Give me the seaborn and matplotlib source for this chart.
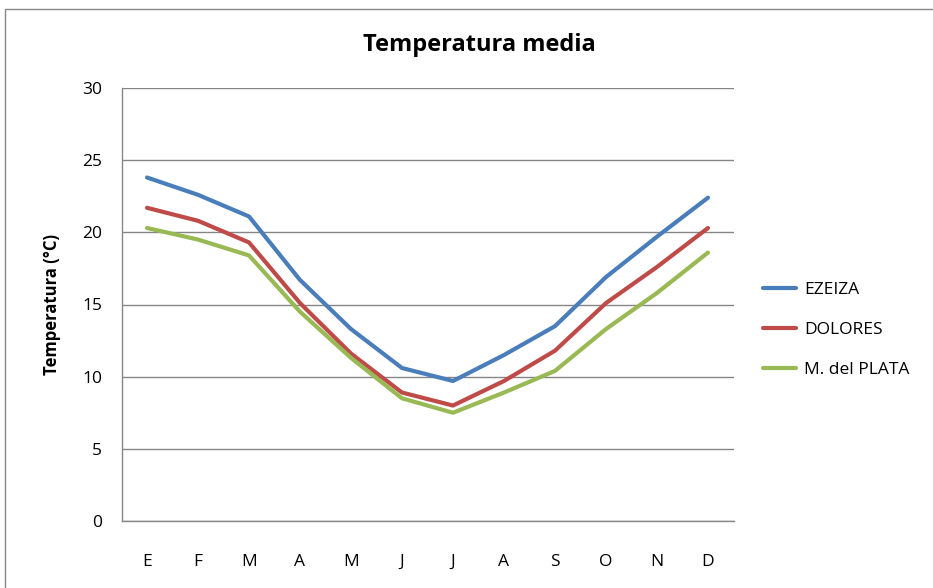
import matplotlib
matplotlib.use("Agg")
import matplotlib.pyplot as plt
import seaborn as sns
import pandas as pd
from matplotlib.patches import Rectangle
from matplotlib.lines import Line2D

months = ["E", "F", "M", "A", "M", "J", "J", "A", "S", "O", "N", "D"]
ezeiza = [23.8, 22.6, 21.1, 16.7, 13.3, 10.6, 9.7, 11.5, 13.5, 16.9, 19.7, 22.4]
dolores = [21.7, 20.8, 19.3, 15.1, 11.6, 8.9, 8.0, 9.7, 11.8, 15.1, 17.6, 20.3]
mdp = [20.3, 19.5, 18.4, 14.5, 11.3, 8.5, 7.5, 8.9, 10.4, 13.3, 15.8, 18.6]
series_names = ["EZEIZA", "DOLORES", "M. del PLATA"]
colors = ["#4A7EBB", "#BE4B48", "#98B954"]

rows = []
for name, vals in zip(series_names, [ezeiza, dolores, mdp]):
    for i, v in enumerate(vals):
        rows.append({"idx": i, "temp": v, "serie": name})
df = pd.DataFrame(rows)

sns.set_style("white")
plt.rcParams["font.family"] = ["Open Sans", "DejaVu Sans"]
plt.rcParams["text.color"] = "black"
plt.rcParams["xtick.color"] = "black"
plt.rcParams["ytick.color"] = "black"
plt.rcParams["axes.labelcolor"] = "black"

fig = plt.figure(figsize=(9.33, 5.88), dpi=100)
W, H = 933, 588
ax = fig.add_axes([121.5 / W, 1 - 521 / H, (733.5 - 121.5) / W, (521 - 88) / H])

sns.lineplot(data=df, x="idx", y="temp", hue="serie", palette=colors,
             hue_order=series_names, linewidth=3.0, ax=ax, legend=False)

ax.set_xlim(-0.5, 11.5)
ax.set_ylim(0, 30)
ax.set_yticks(range(0, 31, 5))
ax.set_yticklabels([str(v) for v in range(0, 31, 5)], fontsize=12.5)
ax.yaxis.grid(True, color="#868686", linewidth=1.0)
ax.set_axisbelow(True)
for s in ["top", "right"]:
    ax.spines[s].set_visible(False)
for s in ["left", "bottom"]:
    ax.spines[s].set_color("#868686")
    ax.spines[s].set_linewidth(1.0)

ax.set_xticks([i + 0.5 for i in range(-1, 12)])
ax.set_xticklabels([])
ax.set_xticks(range(12), minor=True)
ax.set_xticklabels(months, minor=True, fontsize=12.5)
ax.tick_params(axis="x", which="major", direction="out", length=6, color="#868686", width=1)
ax.tick_params(axis="x", which="minor", length=0, pad=24)
ax.tick_params(axis="y", direction="out", length=5, color="#868686", width=1, pad=9)

ax.set_xlabel("")
ax.set_ylabel("Temperatura (°C)", fontsize=12, fontweight="bold", labelpad=15)
fig.text(479 / W, 1 - 45 / H, "Temperatura media", ha="center", va="center",
         fontsize=17, fontweight="bold")

handles = [Line2D([0], [0], color=c, linewidth=3.0) for c in colors]
fig.legend(handles, series_names, loc="center left",
           bbox_to_anchor=(747 / W, 1 - 330 / H), frameon=False, fontsize=12.5,
           handlelength=1.9, labelspacing=1.35, handletextpad=0.5)

fig.patches.append(Rectangle((5 / W, -0.05), 1.2, 1 - 9 / H + 0.05, transform=fig.transFigure,
                             fill=False, edgecolor="#868686", linewidth=1.0))

fig.savefig("out.png", dpi=100)
